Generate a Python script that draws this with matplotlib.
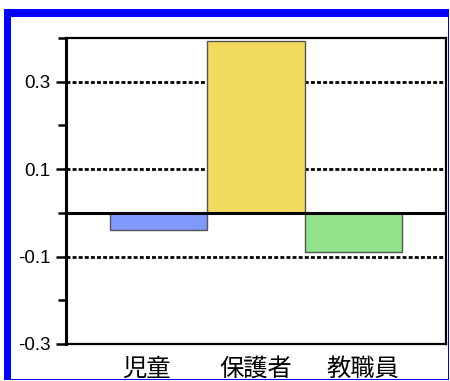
import matplotlib
matplotlib.use("Agg")
import matplotlib.pyplot as plt
from matplotlib.patches import Rectangle
from matplotlib.ticker import FixedLocator, FormatStrFormatter

# 回答者ごとの平均差
categories = ["児童", "保護者", "教職員"]
values = [-0.04, 0.392, -0.09]
bar_colors = ["#8099FF", "#F2DA5E", "#90E38A"]
major_ticks = [-0.3, -0.1, 0.1, 0.3]
minor_ticks = [-0.2, 0.0, 0.2, 0.4]

W, H = 450, 381
fig = plt.figure(figsize=(W / 100, H / 100), dpi=100)
fig.patch.set_facecolor("white")

ax = fig.add_axes([66 / W, 37 / H, 380 / W, 306 / H])
x = list(range(len(categories)))
ax.bar(x, values, width=1.0, color=bar_colors, edgecolor="#555555",
       linewidth=1.0, zorder=2)

ax.set_xlim(-0.95, 2.95)
ax.set_ylim(-0.3, 0.4)

# 点線の目盛線と 0 の基準線
for v in major_ticks[1:]:
    ax.axhline(v, color="black", lw=2.0, ls=(0, (1.4, 0.8)), zorder=1)
ax.axhline(0, color="black", lw=2.2, zorder=3)

ax.yaxis.set_major_locator(FixedLocator(major_ticks))
ax.yaxis.set_minor_locator(FixedLocator(minor_ticks))
ax.yaxis.set_major_formatter(FormatStrFormatter("%.1f"))
ax.tick_params(axis="y", which="major", length=7.2, width=1.8, pad=4,
               labelsize=13.5, direction="out")
ax.tick_params(axis="y", which="minor", length=5.8, width=1.8,
               direction="out")
for lbl in ax.get_yticklabels():
    lbl.set_fontfamily("Liberation Sans")

# 項目名は棒より少し広い間隔で並べる
label_pos = [-0.13, 1.0, 2.1]
ax.set_xticks(label_pos)
ax.set_xticklabels(categories, fontfamily=["Noto Sans CJK JP", "DejaVu Sans"],
                   fontsize=17.5)
ax.tick_params(axis="x", length=0, pad=8.5)

for side in ["top", "right", "bottom"]:
    ax.spines[side].set_linewidth(1.6)
ax.spines["left"].set_linewidth(2.2)

# 外枠（青）
blue = "#0000FF"
fig.patches.extend([
    Rectangle((4 / W, 364 / H), 445 / W, 8 / H, transform=fig.transFigure,
              facecolor=blue, edgecolor="none", zorder=5),
    Rectangle((4 / W, 1 / H), 7 / W, 371 / H, transform=fig.transFigure,
              facecolor=blue, edgecolor="none", zorder=5),
    Rectangle((448 / W, 1 / H), 1.2 / W, 371 / H, transform=fig.transFigure,
              facecolor=blue, edgecolor="none", zorder=5),
    Rectangle((4 / W, 1 / H), 445 / W, 1.2 / H, transform=fig.transFigure,
              facecolor=blue, edgecolor="none", zorder=5),
])

fig.savefig("out.png", dpi=100)
